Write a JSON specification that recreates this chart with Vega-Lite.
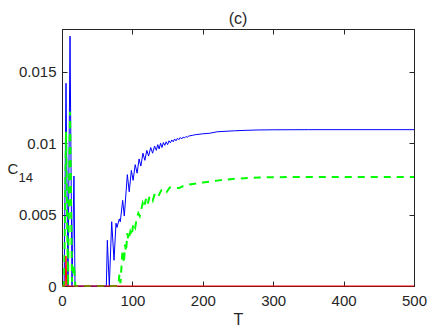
{
  "$schema": "https://vega.github.io/schema/vega-lite/v6.json",
  "width": 352,
  "height": 257,
  "autosize": "none",
  "padding": {"left": 62, "top": 29, "right": 22, "bottom": 42},
  "background": "white",
  "title": {"text": "(c)", "font": "Liberation Sans", "fontSize": 16, "fontWeight": "normal", "color": "#262626", "baseline": "alphabetic", "offset": 9, "dy": 20, "frame": "group"},
  "config": {
    "view": {"stroke": "#262626", "strokeWidth": 1},
    "axis": {"domainColor": "#262626", "tickColor": "#262626", "labelColor": "#262626", "titleColor": "#262626", "labelFont": "Liberation Sans", "titleFont": "Liberation Sans", "labelFontSize": 15, "titleFontSize": 16, "titleFontWeight": "normal", "grid": false, "tickSize": -5, "labelFlush": false, "labelOverlap": false, "labelBound": false}
  },
  "datasets": {
    "blue": [
      {"T": 0, "C": 0}, {"T": 3, "C": 0}, {"T": 5.7, "C": 0.0142}, {"T": 8.5, "C": 0}, {"T": 11.4, "C": 0.0175}, {"T": 14.2, "C": 0}, {"T": 17, "C": 0.0077}, {"T": 18.5, "C": 0},
      {"T": 63, "C": 0}, {"T": 64.4, "C": 0.0032}, {"T": 67.2, "C": 0}, {"T": 70.6, "C": 0.0045}, {"T": 73.9, "C": 0.0018}, {"T": 76.7, "C": 0.0044}, {"T": 78.1, "C": 0.0041}, {"T": 81.4, "C": 0.0047}, {"T": 82.8, "C": 0.0045}, {"T": 86.2, "C": 0.006}, {"T": 88.5, "C": 0.0049},
      {"T": 92.8, "C": 0.0078}, {"T": 95.5, "C": 0.0066}, {"T": 98.5, "C": 0.0081}, {"T": 101, "C": 0.0074}, {"T": 104, "C": 0.0085}, {"T": 106.7, "C": 0.0079}, {"T": 109.5, "C": 0.0089}, {"T": 112, "C": 0.0084}, {"T": 115, "C": 0.0093}, {"T": 117.7, "C": 0.0088}, {"T": 120.5, "C": 0.0095}, {"T": 123, "C": 0.0091}, {"T": 126, "C": 0.0097}, {"T": 128.7, "C": 0.0093}, {"T": 131.5, "C": 0.0098}, {"T": 134, "C": 0.0095}, {"T": 136, "C": 0.0099}, {"T": 138, "C": 0.0096}, {"T": 140, "C": 0.01}, {"T": 142, "C": 0.0097}, {"T": 144, "C": 0.01005}, {"T": 146, "C": 0.00985}, {"T": 148, "C": 0.0101}, {"T": 150, "C": 0.0099}, {"T": 152, "C": 0.01017}, {"T": 154, "C": 0.01003}, {"T": 156, "C": 0.01023}, {"T": 158, "C": 0.0101}, {"T": 160, "C": 0.0103}, {"T": 162, "C": 0.01017}, {"T": 164, "C": 0.01035}, {"T": 166, "C": 0.01025}, {"T": 168, "C": 0.0104}, {"T": 170, "C": 0.0103}, {"T": 172, "C": 0.01043}, {"T": 174, "C": 0.01037}, {"T": 176, "C": 0.01047}, {"T": 178, "C": 0.01042}, {"T": 180, "C": 0.0105},
      {"T": 185, "C": 0.01055}, {"T": 190, "C": 0.0106}, {"T": 200, "C": 0.01066}, {"T": 210, "C": 0.0107}, {"T": 220, "C": 0.0108}, {"T": 230, "C": 0.01083}, {"T": 245, "C": 0.01087}, {"T": 260, "C": 0.0109}, {"T": 280, "C": 0.01093}, {"T": 300, "C": 0.01094}, {"T": 350, "C": 0.01095}, {"T": 500, "C": 0.01095}
    ],
    "green": [
      {"T": 0, "C": 0}, {"T": 3, "C": 0}, {"T": 5.7, "C": 0.0108}, {"T": 8.5, "C": 0}, {"T": 11.4, "C": 0.0122}, {"T": 14.2, "C": 0.0003}, {"T": 17, "C": 0.0015}, {"T": 19, "C": 0},
      {"T": 80, "C": 0}, {"T": 81.5, "C": 0.0008}, {"T": 83, "C": 0.0002}, {"T": 86, "C": 0.0025}, {"T": 88, "C": 0.0016}, {"T": 89.5, "C": 0.0029}, {"T": 91, "C": 0.0024}, {"T": 92.8, "C": 0.0037}, {"T": 94.5, "C": 0.0032}, {"T": 97, "C": 0.0038}, {"T": 99, "C": 0.0035}, {"T": 101.3, "C": 0.0044}, {"T": 104, "C": 0.0041}, {"T": 106, "C": 0.0047}, {"T": 108.4, "C": 0.0051}, {"T": 110.5, "C": 0.0049}, {"T": 114.6, "C": 0.0058}, {"T": 116.5, "C": 0.0055}, {"T": 119.3, "C": 0.0061}, {"T": 121.5, "C": 0.0057}, {"T": 124, "C": 0.0062}, {"T": 126.6, "C": 0.0063}, {"T": 129, "C": 0.006}, {"T": 132, "C": 0.0065}, {"T": 134.5, "C": 0.0065}, {"T": 137, "C": 0.0063}, {"T": 141, "C": 0.0067}, {"T": 146.3, "C": 0.0068}, {"T": 149, "C": 0.0066}, {"T": 153, "C": 0.0069}, {"T": 160.5, "C": 0.0069}, {"T": 166, "C": 0.00685}, {"T": 172.3, "C": 0.007}, {"T": 179.4, "C": 0.0071}, {"T": 186, "C": 0.00715}, {"T": 193.6, "C": 0.0072}, {"T": 200, "C": 0.00725}, {"T": 210.2, "C": 0.0073}, {"T": 220, "C": 0.00738}, {"T": 231.5, "C": 0.00744}, {"T": 242, "C": 0.0075}, {"T": 252.8, "C": 0.00753}, {"T": 265, "C": 0.00756}, {"T": 280, "C": 0.0076}, {"T": 300, "C": 0.00762}, {"T": 350, "C": 0.00764}, {"T": 500, "C": 0.00764}
    ],
    "red": [
      {"T": 0, "C": 0}, {"T": 4.5, "C": 0}, {"T": 5.6, "C": 0.0021}, {"T": 6.8, "C": 0}, {"T": 500, "C": 0}
    ]
  },
  "layer": [
    {
      "data": {"name": "blue"},
      "mark": {"type": "line", "color": "#0000ff", "strokeWidth": 1},
      "encoding": {
        "x": {"field": "T", "type": "quantitative", "scale": {"domain": [0, 500], "nice": false},
          "axis": {"orient": "bottom", "values": [0, 100, 200, 300, 400, 500], "labelPadding": 12, "title": "T", "titleX": 176, "titleY": 38, "titleAlign": "center", "titleBaseline": "alphabetic"}},
        "y": {"field": "C", "type": "quantitative", "scale": {"domain": [0, 0.018], "nice": false},
          "axis": {"orient": "left", "values": [0, 0.005, 0.01, 0.015], "format": "~g", "labelPadding": 11, "title": "C", "titleAngle": 0, "titleFontSize": 15, "titleX": -55, "titleY": 144, "titleAlign": "left", "titleBaseline": "alphabetic"}}
      }
    },
    {
      "data": {"name": "green"},
      "mark": {"type": "line", "color": "#00ff00", "strokeWidth": 2, "strokeDash": [7, 6]},
      "encoding": {
        "x": {"field": "T", "type": "quantitative",
          "axis": {"orient": "top", "values": [0, 100, 200, 300, 400, 500], "labels": false, "title": null}},
        "y": {"field": "C", "type": "quantitative",
          "axis": {"orient": "right", "values": [0, 0.005, 0.01, 0.015], "labels": false, "title": "14", "titleAngle": 0, "titleFontSize": 13, "titleX": -396, "titleY": 152, "titleAlign": "left", "titleBaseline": "alphabetic"}}
      }
    },
    {
      "data": {"name": "red"},
      "mark": {"type": "line", "color": "#ff0000", "strokeWidth": 1},
      "encoding": {
        "x": {"field": "T", "type": "quantitative", "axis": null},
        "y": {"field": "C", "type": "quantitative", "axis": null}
      }
    }
  ],
  "resolve": {"axis": {"x": "independent", "y": "independent"}}
}
